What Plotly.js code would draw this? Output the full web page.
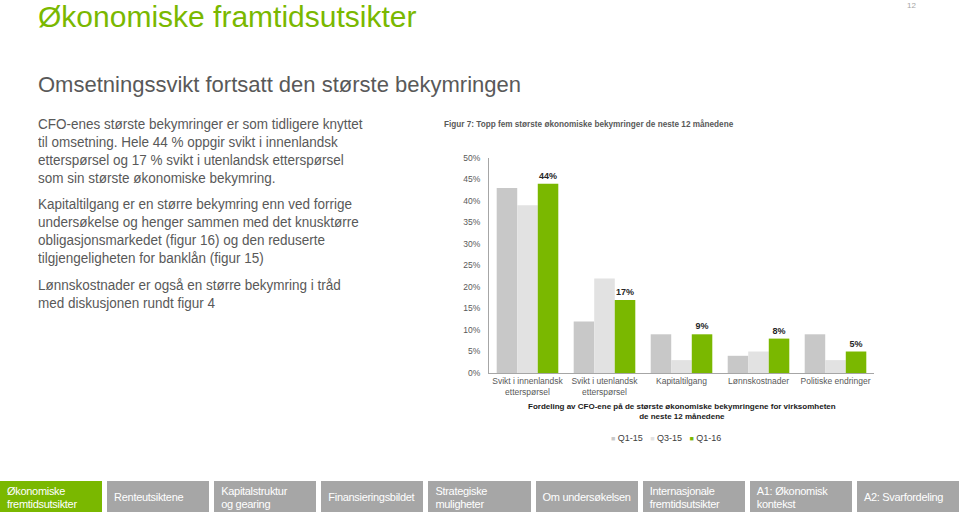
<!DOCTYPE html>
<html><head><meta charset="utf-8">
<script src="https://cdn.plot.ly/plotly-3.0.1.min.js"></script>
<style>
body{margin:0;width:959px;height:512px;overflow:hidden;background:#fff;font-family:"Liberation Sans",Arial,sans-serif;position:relative}
#chart{position:absolute;left:0;top:0;width:959px;height:512px}
.t{position:absolute;white-space:nowrap}
#h1{left:38px;top:0px;font-size:30px;line-height:34px;color:#7ab800}
#h2{left:38px;top:72px;font-size:22px;color:#595959}
.p{position:absolute;left:38px;font-size:15.5px;line-height:18px;color:#595959;white-space:nowrap;transform:scaleX(0.87);transform-origin:0 0}
#pg{left:907px;top:1px;font-size:8px;color:#a6a6a6}
#nav{position:absolute;left:0;top:481px;width:959px;height:31px;display:flex;gap:5px}
.nb{flex:1;background:#a6a6a6;color:#fff;font-size:11px;line-height:13px;padding:2px 4px 0 7px;display:flex;align-items:center;box-sizing:border-box;white-space:nowrap;letter-spacing:-0.3px;overflow:hidden}
.nb.g{background:#7ab800}
</style></head><body>
<div class="t" id="h1">Økonomiske framtidsutsikter</div>
<div class="t" id="pg">12</div>
<div class="t" id="h2">Omsetningssvikt fortsatt den største bekymringen</div>
<div class="p" style="top:115px">CFO-enes største bekymringer er som tidligere knyttet<br>til omsetning. Hele 44 % oppgir svikt i innenlandsk<br>etterspørsel og 17 % svikt i utenlandsk etterspørsel<br>som sin største økonomiske bekymring.</div>
<div class="p" style="top:195px">Kapitaltilgang er en større bekymring enn ved forrige<br>undersøkelse og henger sammen med det knusktørre<br>obligasjonsmarkedet (figur 16) og den reduserte<br>tilgjengeligheten for banklån (figur 15)</div>
<div class="p" style="top:276px">Lønnskostnader er også en større bekymring i tråd<br>med diskusjonen rundt figur 4</div>
<div id="chart"></div>
<div id="nav">
<div class="nb g">Økonomiske<br>fremtidsutsikter</div>
<div class="nb">Renteutsiktene</div>
<div class="nb">Kapitalstruktur<br>og gearing</div>
<div class="nb">Finansieringsbildet</div>
<div class="nb">Strategiske<br>muligheter</div>
<div class="nb">Om undersøkelsen</div>
<div class="nb">Internasjonale<br>fremtidsutsikter</div>
<div class="nb">A1: Økonomisk<br>kontekst</div>
<div class="nb">A2: Svarfordeling</div>
</div>
<script>
const categories = ["Svikt i innenlandsk<br>etterspørsel","Svikt i utenlandsk<br>etterspørsel","Kapitaltilgang","Lønnskostnader","Politiske endringer"];
const q1_15 = [43, 12, 9, 4, 9];
const q3_15 = [39, 22, 3, 5, 3];
const q1_16 = [44, 17, 9, 8, 5];
const seriesNames = ["Q1-15","Q3-15","Q1-16"];
const seriesColors = ['#c8c8c8','#e2e2e2','#7ab800'];
const yTicks = [0,5,10,15,20,25,30,35,40,45,50];

const font = "Liberation Sans, Arial, sans-serif";
const allSeries = [q1_15, q3_15, q1_16];
const traces = allSeries.map((vals,i)=>({
  type:'bar', name:seriesNames[i], x:categories, y:vals, marker:{color:seriesColors[i]}, hoverinfo:'none', showlegend:false
}));
traces[2].text = q1_16.map(v=>v+'%');
traces[2].textposition = 'outside';
traces[2].cliponaxis = false;
traces[2].textfont = {family:font, size:9, color:'#262626', weight:'bold'};

const legendText = seriesNames.map((n,i)=>`<span style="color:${seriesColors[i]};font-size:7px">■</span> ${n}`).join('&nbsp;&nbsp;&nbsp;');

const layout = {
  width:959, height:512,
  margin:{l:489, r:85, t:158, b:139},
  paper_bgcolor:'rgba(0,0,0,0)', plot_bgcolor:'rgba(0,0,0,0)',
  font:{family:font, color:'#595959'},
  barmode:'group', bargap:0.2, bargroupgap:0,
  xaxis:{showline:true, linecolor:'#a6a6a6', linewidth:1, ticks:'', tickfont:{size:8.5, color:'#595959'}, fixedrange:true},
  yaxis:{range:[0,50], tickvals:yTicks, ticktext:yTicks.map(v=>v+'%'), showgrid:false, zeroline:false,
         showline:true, linecolor:'#a6a6a6', linewidth:1, ticks:'', ticklen:0, ticklabelstandoff:6, tickfont:{size:8.5, color:'#595959'}, fixedrange:true},
  showlegend:false,
  annotations:[
    {xref:'paper', yref:'paper', x:-0.121, y:1.16, xanchor:'left', yanchor:'middle', showarrow:false,
     text:'<b>Figur 7: Topp fem største økonomiske bekymringer de neste 12 månedene</b>', font:{size:8.2, color:'#595959'}},
    {xref:'paper', yref:'paper', x:0.502, y:-0.125, xanchor:'center', yanchor:'top', showarrow:false,
     text:'<b>Fordeling av CFO-ene på de største økonomiske bekymringene for virksomheten<br>de neste 12 månedene</b>', font:{size:8, color:'#1a1a1a'}},
    {xref:'paper', yref:'paper', x:0.461, y:-0.302, xanchor:'center', yanchor:'middle', showarrow:false,
     text:legendText, font:{size:9, color:'#404040'}}
  ]
};
Plotly.newPlot('chart', traces, layout, {displayModeBar:false, staticPlot:true});
</script>
</body></html>
